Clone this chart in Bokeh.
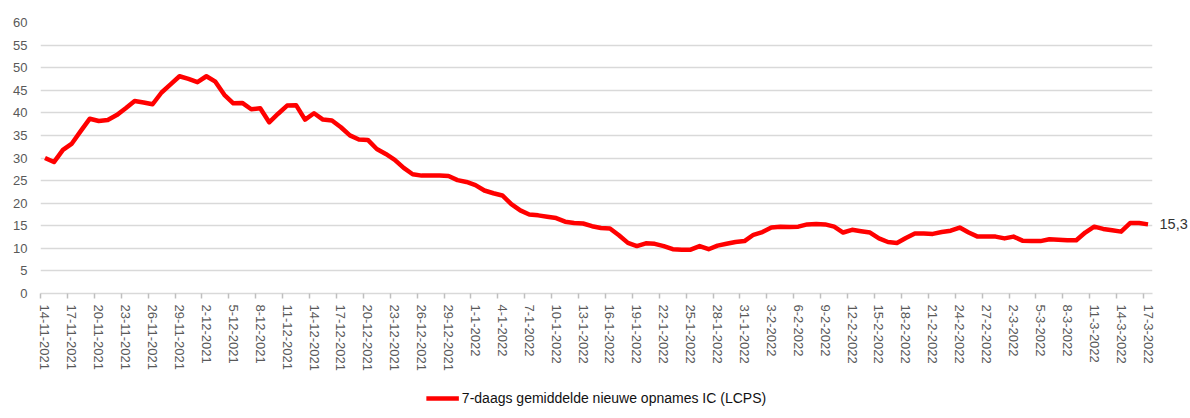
import pandas as pd
from bokeh.plotting import figure
from bokeh.layouts import column
from bokeh.models import FixedTicker, Range1d, Legend, LegendItem, ColumnDataSource, LinearAxis
from bokeh.embed import file_html
from bokeh.resources import INLINE

# ---- data ----
dates = pd.date_range("2021-11-14", "2022-03-17", freq="D")
date_labels = [f"{d.day}-{d.month}-{d.year}" for d in dates]

ic_7day = [
    30.0, 29.1, 31.8, 33.2, 36.0, 38.7, 38.2, 38.4, 39.5, 41.0,
    42.6, 42.3, 41.9, 44.5, 46.3, 48.1, 47.5, 46.8, 48.1, 46.9,
    44.0, 42.1, 42.2, 40.8, 41.0, 37.9, 39.8, 41.6, 41.7, 38.5,
    39.9, 38.5, 38.3, 36.8, 35.0, 34.1, 34.0, 32.0, 30.9, 29.6,
    27.8, 26.4, 26.1, 26.1, 26.1, 26.0, 25.1, 24.7, 24.0, 22.8,
    22.2, 21.7, 19.8, 18.4, 17.5, 17.3, 17.0, 16.7, 15.9, 15.6,
    15.5, 14.9, 14.5, 14.4, 12.9, 11.2, 10.5, 11.1, 11.0, 10.5,
    9.8, 9.7, 9.7, 10.5, 9.8, 10.6, 11.0, 11.4, 11.6, 13.0,
    13.6, 14.6, 14.8, 14.7, 14.8, 15.3, 15.4, 15.3, 14.8, 13.5,
    14.1, 13.8, 13.5, 12.2, 11.4, 11.2, 12.3, 13.3, 13.3, 13.2,
    13.6, 13.9, 14.6, 13.5, 12.6, 12.6, 12.6, 12.2, 12.6, 11.7,
    11.6, 11.6, 12.0, 11.9, 11.8, 11.8, 13.5, 14.8, 14.3, 14.0,
    13.7, 15.6, 15.6, 15.3,
]
y_ticks = list(range(0, 61, 5))
series_name = "7-daags gemiddelde nieuwe opnames IC (LCPS)"
end_label = "15,3"

n = len(ic_7day)
idx = list(range(n))
src = ColumnDataSource(dict(x=idx, y=ic_7day))

FONT = "Liberation Sans"
GRID = "#d9d9d9"
LABEL = "#595959"
RED = "#ff0000"

p = figure(width=1190, height=378, x_range=Range1d(-0.5, n - 0.5), y_range=Range1d(0, 60),
           output_backend="svg", toolbar_location=None,
           min_border_left=40, min_border_right=38, min_border_top=22, min_border_bottom=85)
p.outline_line_color = None
p.background_fill_color = "white"

r = p.line("x", "y", source=src, line_color=RED, line_width=4.5, line_join="round")

# x axis
label_idx = list(range(0, n, 3))
p.xaxis.ticker = FixedTicker(ticks=label_idx, minor_ticks=[k - 0.5 for k in range(0, n + 1, 3)])
p.xaxis.major_label_overrides = {i: date_labels[i] for i in label_idx}
p.xaxis.major_label_orientation = "vertical"
p.xaxis.major_tick_line_color = None
p.xaxis.major_tick_out = 0
p.xaxis.major_tick_in = 0
p.xaxis.minor_tick_line_color = "#bfbfbf"
p.xaxis.minor_tick_line_width = 1.5
p.xaxis.minor_tick_out = 5
p.xaxis.minor_tick_in = 0
p.xaxis.axis_line_color = GRID
p.xaxis.axis_line_width = 1.5
p.xaxis.major_label_standoff = 6
p.xaxis.major_label_text_font = FONT
p.xaxis.major_label_text_font_size = "13px"
p.xaxis.major_label_text_color = LABEL

# y axis
p.yaxis.ticker = FixedTicker(ticks=y_ticks)
p.yaxis.axis_line_color = None
p.yaxis.major_tick_line_color = None
p.yaxis.minor_tick_line_color = None
p.yaxis.major_tick_out = 0
p.yaxis.major_label_standoff = 13
p.yaxis.major_label_text_font = FONT
p.yaxis.major_label_text_font_size = "13px"
p.yaxis.major_label_text_color = LABEL

p.xgrid.grid_line_color = None
p.ygrid.ticker = FixedTicker(ticks=y_ticks[1:])
p.ygrid.grid_line_color = GRID
p.ygrid.grid_line_width = 1.5

# end value label as a right-hand axis with a single tick
end_axis = LinearAxis(ticker=FixedTicker(ticks=[ic_7day[-1]]),
                      major_label_overrides={ic_7day[-1]: end_label})
end_axis.axis_line_color = None
end_axis.major_tick_line_color = None
end_axis.minor_tick_line_color = None
end_axis.major_tick_out = 0
end_axis.major_tick_in = 0
end_axis.major_label_standoff = 7
end_axis.major_label_text_font = FONT
end_axis.major_label_text_font_size = "14.5px"
end_axis.major_label_text_color = "#333333"
p.add_layout(end_axis, "right")

# legend strip below the chart (series drawn off-range so only the legend swatch shows)
lg = figure(width=1190, height=40, x_range=Range1d(-0.5, n - 0.5), y_range=Range1d(-200, -100),
            output_backend="svg", toolbar_location=None, min_border=0)
lg.axis.visible = False
lg.grid.grid_line_color = None
lg.outline_line_color = None
sw = lg.line("x", "y", source=src, line_color=RED, line_width=4.5)
legend = Legend(items=[LegendItem(label=series_name, renderers=[sw])],
                location="center", orientation="horizontal",
                border_line_color=None, background_fill_alpha=0,
                padding=0, margin=0, glyph_width=33, glyph_height=14,
                label_standoff=3, label_text_font=FONT, label_text_font_size="14px",
                label_text_color="#111111")
lg.add_layout(legend)

layout = column(p, lg, spacing=0)
open("out.html", "w").write(file_html(layout, INLINE))
